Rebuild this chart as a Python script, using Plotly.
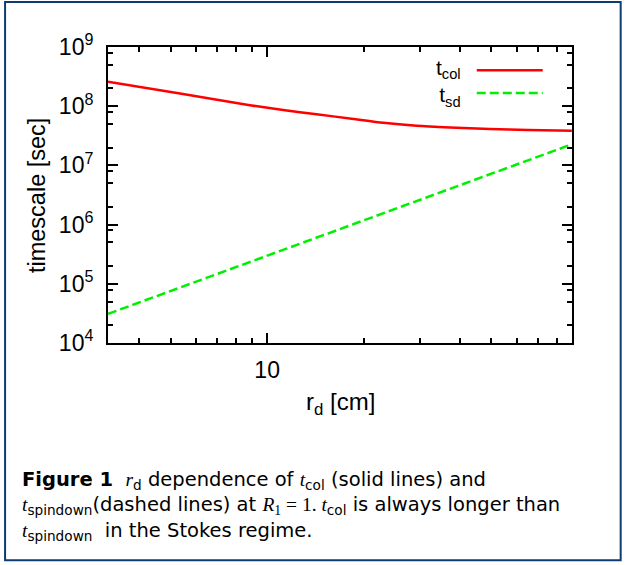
import plotly.graph_objects as go

# ---------------- data ----------------
rd_col = [3.19, 5.35, 8.83, 11.22, 14.25, 18.1, 22.98, 29.2, 37.1, 49.4, 65.0, 89.0]
t_col = [2.58e8, 1.64e8, 1.04e8, 8.6e7, 7.28e7, 6.22e7, 5.25e7, 4.68e7, 4.37e7, 4.11e7, 3.96e7, 3.85e7]

rd_sd = [3.19, 10.0, 30.0, 89.0]
t_sd = [3.1e4, 3.0e5, 2.6e6, 2.27e7]

legend_labels = ["t<sub>col</sub>", "t<sub>sd</sub>"]

x_tickvals = [10]
x_ticktext = ["10"]
x_minor = [4, 5, 6, 7, 8, 9, 20, 30, 40, 50, 60, 70, 80]
y_tickvals = [1e4, 1e5, 1e6, 1e7, 1e8, 1e9]
y_ticktext = ["10<sup>4</sup>", "10<sup>5</sup>", "10<sup>6</sup>", "10<sup>7</sup>",
              "10<sup>8</sup>", "10<sup>9</sup>"]
y_minor = [m * 10 ** e for e in range(4, 9) for m in (2, 5, 8)]

# ---------------- layout geometry (pixels) ----------------
W, H = 625, 565
L, R, T, B = 108, 572.3, 46.7, 343.3
PW, PH = R - L, B - T


def px(x):
    return (x - L) / PW


def py(y):
    return (B - y) / PH


SANS = "Liberation Sans, Arial, sans-serif"
CAPFONT = "DejaVu Sans"
SERIF = "Liberation Serif"

fig = go.Figure()
fig.add_trace(go.Scatter(x=rd_col, y=t_col, mode="lines",
                         line=dict(color="#ff0000", width=2.5, shape="spline", smoothing=0.6),
                         showlegend=False))
fig.add_trace(go.Scatter(x=rd_sd, y=t_sd, mode="lines",
                         line=dict(color="#00f000", width=2.5, dash="9px,4px"),
                         showlegend=False))

axis_common = dict(showline=True, linecolor="black", linewidth=2, mirror="allticks",
                   ticks="inside", ticklen=10, tickwidth=1.5, tickcolor="black",
                   showgrid=False, zeroline=False,
                   tickfont=dict(family=SANS, size=23, color="black"))

fig.update_xaxes(type="log", range=[0.504, 1.950], tickmode="array",
                 tickvals=x_tickvals, ticktext=x_ticktext, ticklabelstandoff=5,
                 minor=dict(tickmode="array", tickvals=x_minor, ticks="inside",
                            ticklen=5, tickwidth=1.5, tickcolor="black", showgrid=False),
                 **axis_common)
fig.update_yaxes(type="log", range=[4, 9], tickmode="array",
                 tickvals=y_tickvals, ticktext=y_ticktext, ticklabelstandoff=8,
                 minor=dict(tickmode="array", tickvals=y_minor, ticks="inside",
                            ticklen=5, tickwidth=1.5, tickcolor="black", showgrid=False),
                 **axis_common)

annotations = []
# axis titles
annotations.append(dict(text="r<sub>d</sub> [cm]", xref="paper", yref="paper",
                        x=px(341), y=py(404), xanchor="center", yanchor="middle",
                        showarrow=False, font=dict(family=SANS, size=24, color="black")))
annotations.append(dict(text="timescale [sec]", xref="paper", yref="paper",
                        x=px(37), y=py(196), xanchor="center", yanchor="middle",
                        textangle=-90, showarrow=False,
                        font=dict(family=SANS, size=23.5, color="black")))
# legend texts (one block, right-aligned)
annotations.append(dict(text="<br>".join(legend_labels), xref="paper", yref="paper",
                        x=px(463), y=py(83), xanchor="right", yanchor="middle",
                        align="right", showarrow=False,
                        font=dict(family=SANS, size=21, color="black")))


def mi(s):
    return '<span style="font-family:' + SERIF + '"><i>' + s + '</i></span>'


cap1 = "<b>Figure 1</b>  " + mi("r") + "<sub>d</sub> dependence of " + mi("t") + \
       "<sub>col</sub> (solid lines) and"
cap2 = mi("t") + "<sub>spindown</sub>(dashed lines) at " + mi("R") + \
       '<sub><span style="font-family:' + SERIF + '">1</span></sub>' + \
       '<span style="font-family:' + SERIF + '"> = 1. </span>' + mi("t") + \
       "<sub>col</sub> is always longer than"
cap3 = mi("t") + "<sub>spindown</sub>  in the Stokes regime."
annotations.append(dict(text="<br>".join([cap1, cap2, cap3]), xref="paper", yref="paper",
                        x=px(20), y=py(507), xanchor="left", yanchor="middle",
                        showarrow=False, align="left",
                        font=dict(family=CAPFONT, size=19.5, color="black")))

shapes = [
    dict(type="line", xref="paper", yref="paper", x0=px(477), x1=px(543), y0=py(70), y1=py(70),
         line=dict(color="#ff0000", width=2.5)),
    dict(type="line", xref="paper", yref="paper", x0=px(477), x1=px(543), y0=py(92.7), y1=py(92.7),
         line=dict(color="#00f000", width=2.5, dash="9px,4px")),
    dict(type="rect", xref="paper", yref="paper", x0=px(5), x1=px(621), y0=py(1.5), y1=py(561),
         line=dict(color="#0e3c6e", width=2), fillcolor="rgba(0,0,0,0)", layer="above"),
]

fig.update_layout(width=W, height=H, autosize=False,
                  margin=dict(l=L, r=W - R, t=T, b=H - B, pad=0),
                  paper_bgcolor="white", plot_bgcolor="white",
                  annotations=annotations, shapes=shapes, showlegend=False)

fig.write_html("out.html")
